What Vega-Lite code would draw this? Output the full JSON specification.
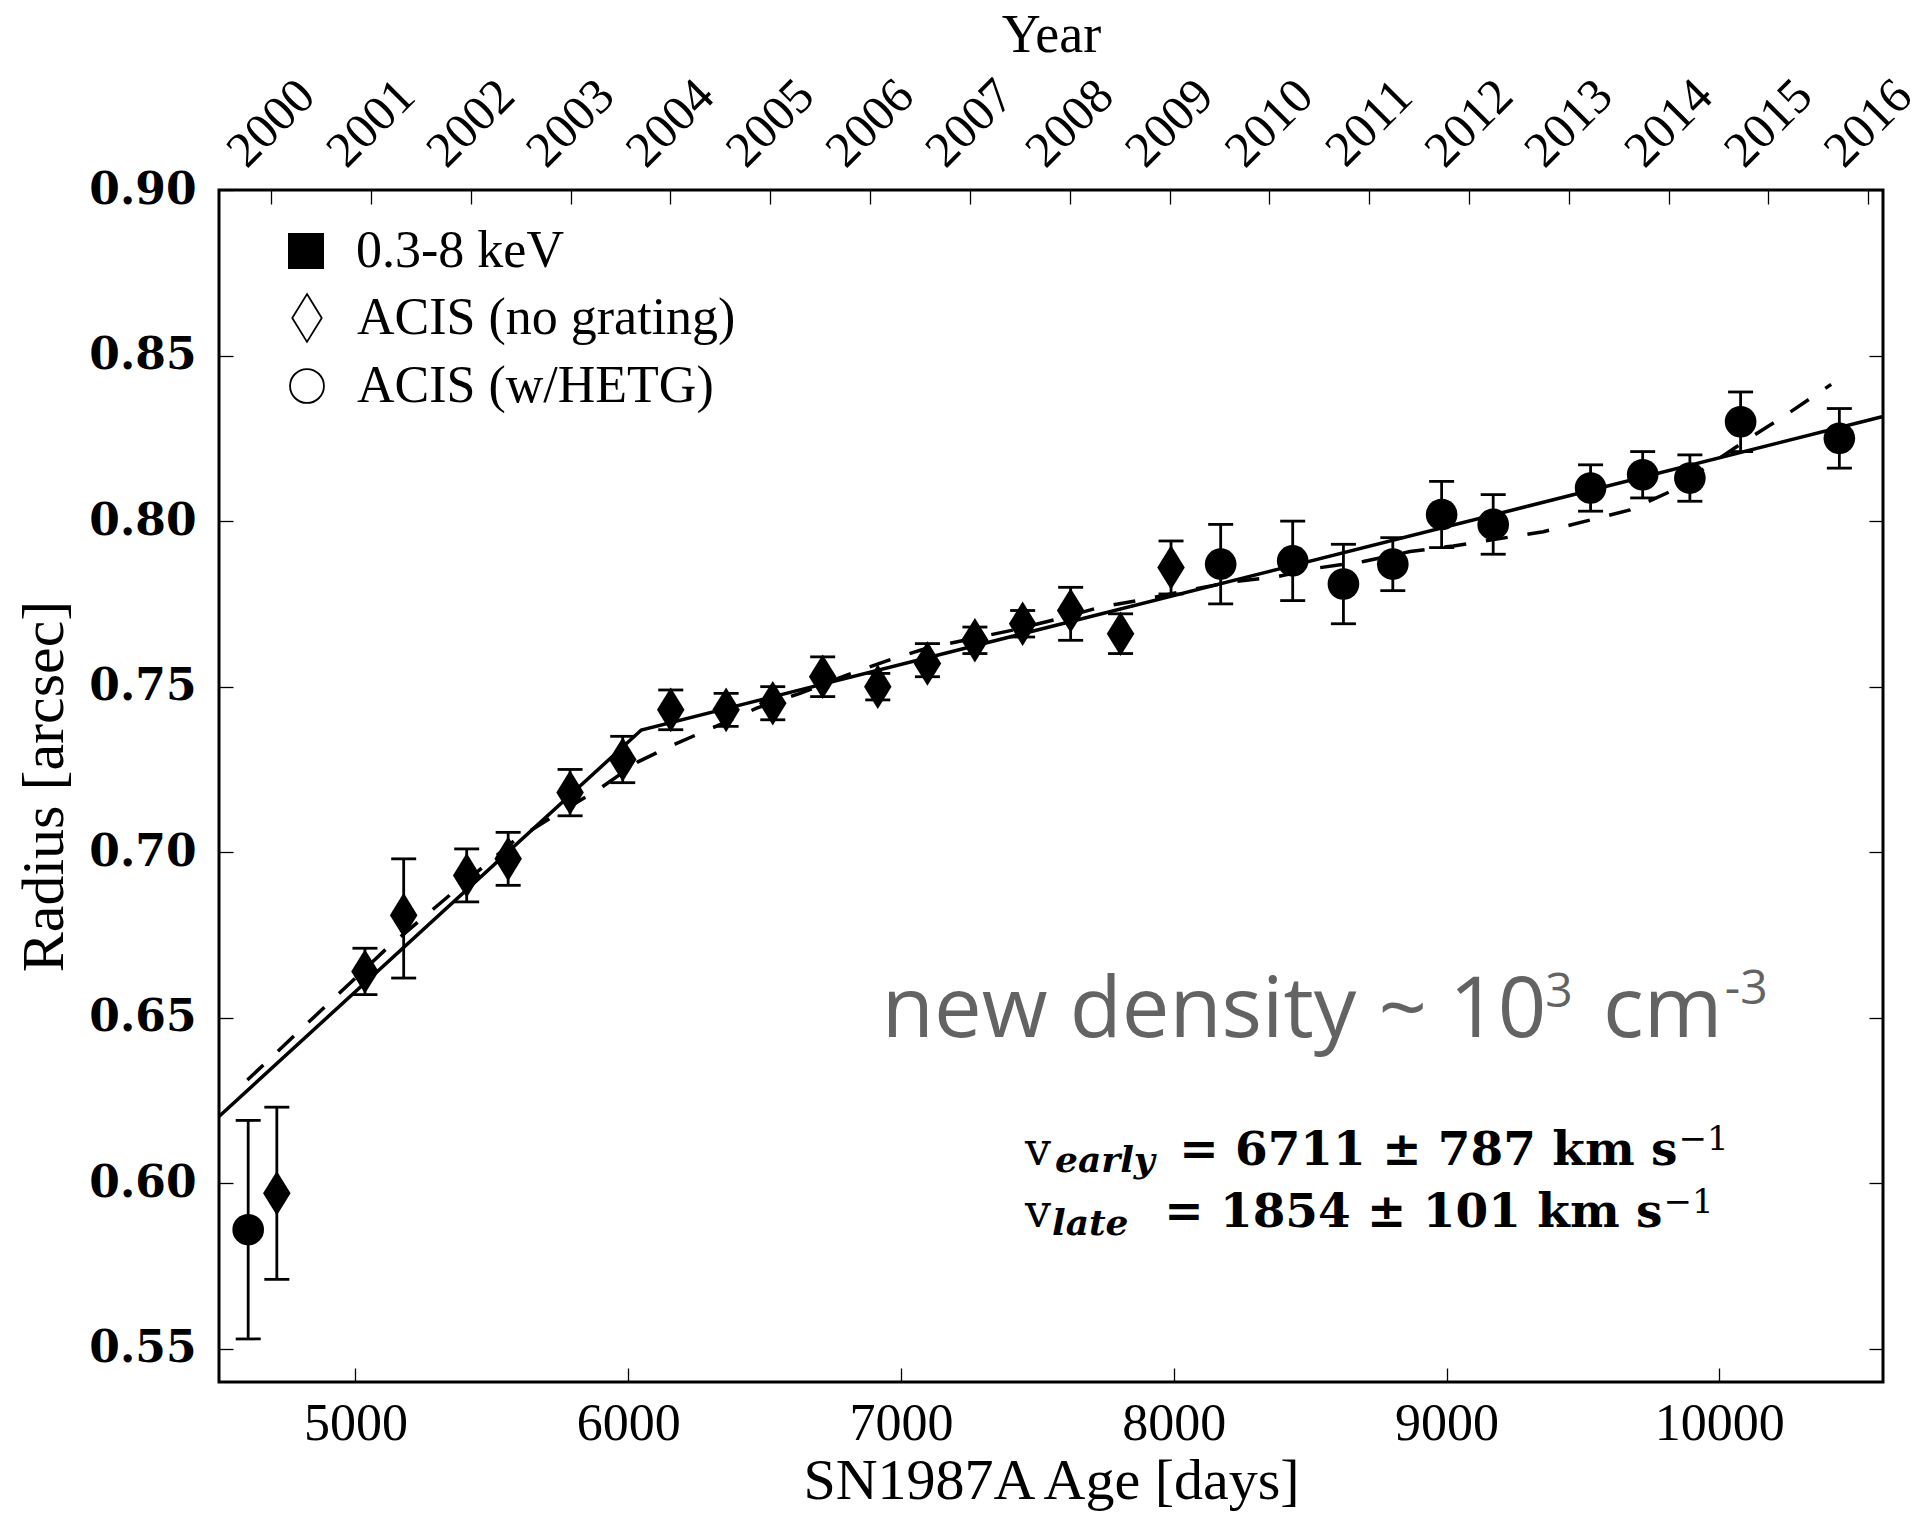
{
  "$schema": "https://vega.github.io/schema/vega-lite/v6.json",
  "width": 1664,
  "height": 1192,
  "autosize": {"type": "none"},
  "padding": {"left": 219, "top": 190, "right": 41, "bottom": 131},
  "background": "white",
  "config": {
    "view": {"stroke": "black", "strokeWidth": 3},
    "axis": {
      "grid": false, "domain": false, "tickColor": "black", "tickWidth": 1.3, "tickSize": -14,
      "labelColor": "black", "titleColor": "black", "labelFont": "Liberation Serif", "titleFont": "Liberation Serif",
      "titleFontWeight": "normal", "labelFontSize": 50, "titleFontSize": 60, "labelOverlap": false, "labelFlush": false, "labelLimit": 400
    },
    "legend": {"labelFont": "Liberation Serif", "labelFontSize": 52, "labelColor": "black", "padding": 0, "labelLimit": 700, "symbolStrokeWidth": 1.8}
  },
  "datasets": {
    "obs": [
      {"day": 4607, "r": 0.586, "lo": 0.553, "hi": 0.619, "instrument": "ACIS (w/HETG)", "band": "0.3-8 keV"},
      {"day": 4712, "r": 0.597, "lo": 0.571, "hi": 0.623, "instrument": "ACIS (no grating)", "band": "0.3-8 keV"},
      {"day": 5035, "r": 0.664, "lo": 0.657, "hi": 0.671, "instrument": "ACIS (no grating)", "band": "0.3-8 keV"},
      {"day": 5177, "r": 0.681, "lo": 0.662, "hi": 0.698, "instrument": "ACIS (no grating)", "band": "0.3-8 keV"},
      {"day": 5408, "r": 0.693, "lo": 0.685, "hi": 0.701, "instrument": "ACIS (no grating)", "band": "0.3-8 keV"},
      {"day": 5560, "r": 0.698, "lo": 0.690, "hi": 0.706, "instrument": "ACIS (no grating)", "band": "0.3-8 keV"},
      {"day": 5787, "r": 0.718, "lo": 0.711, "hi": 0.725, "instrument": "ACIS (no grating)", "band": "0.3-8 keV"},
      {"day": 5980, "r": 0.728, "lo": 0.721, "hi": 0.735, "instrument": "ACIS (no grating)", "band": "0.3-8 keV"},
      {"day": 6156, "r": 0.743, "lo": 0.737, "hi": 0.749, "instrument": "ACIS (no grating)", "band": "0.3-8 keV"},
      {"day": 6359, "r": 0.743, "lo": 0.738, "hi": 0.748, "instrument": "ACIS (no grating)", "band": "0.3-8 keV"},
      {"day": 6530, "r": 0.745, "lo": 0.740, "hi": 0.750, "instrument": "ACIS (no grating)", "band": "0.3-8 keV"},
      {"day": 6713, "r": 0.753, "lo": 0.747, "hi": 0.759, "instrument": "ACIS (no grating)", "band": "0.3-8 keV"},
      {"day": 6915, "r": 0.750, "lo": 0.746, "hi": 0.754, "instrument": "ACIS (no grating)", "band": "0.3-8 keV"},
      {"day": 7097, "r": 0.757, "lo": 0.753, "hi": 0.763, "instrument": "ACIS (no grating)", "band": "0.3-8 keV"},
      {"day": 7271, "r": 0.764, "lo": 0.760, "hi": 0.768, "instrument": "ACIS (no grating)", "band": "0.3-8 keV"},
      {"day": 7446, "r": 0.769, "lo": 0.765, "hi": 0.773, "instrument": "ACIS (no grating)", "band": "0.3-8 keV"},
      {"day": 7622, "r": 0.773, "lo": 0.764, "hi": 0.780, "instrument": "ACIS (no grating)", "band": "0.3-8 keV"},
      {"day": 7805, "r": 0.766, "lo": 0.760, "hi": 0.772, "instrument": "ACIS (no grating)", "band": "0.3-8 keV"},
      {"day": 7990, "r": 0.786, "lo": 0.778, "hi": 0.794, "instrument": "ACIS (no grating)", "band": "0.3-8 keV"},
      {"day": 8172, "r": 0.787, "lo": 0.775, "hi": 0.799, "instrument": "ACIS (w/HETG)", "band": "0.3-8 keV"},
      {"day": 8436, "r": 0.788, "lo": 0.776, "hi": 0.800, "instrument": "ACIS (w/HETG)", "band": "0.3-8 keV"},
      {"day": 8622, "r": 0.781, "lo": 0.769, "hi": 0.793, "instrument": "ACIS (w/HETG)", "band": "0.3-8 keV"},
      {"day": 8803, "r": 0.787, "lo": 0.779, "hi": 0.795, "instrument": "ACIS (w/HETG)", "band": "0.3-8 keV"},
      {"day": 8982, "r": 0.802, "lo": 0.792, "hi": 0.812, "instrument": "ACIS (w/HETG)", "band": "0.3-8 keV"},
      {"day": 9171, "r": 0.799, "lo": 0.790, "hi": 0.808, "instrument": "ACIS (w/HETG)", "band": "0.3-8 keV"},
      {"day": 9528, "r": 0.810, "lo": 0.803, "hi": 0.817, "instrument": "ACIS (w/HETG)", "band": "0.3-8 keV"},
      {"day": 9719, "r": 0.814, "lo": 0.807, "hi": 0.821, "instrument": "ACIS (w/HETG)", "band": "0.3-8 keV"},
      {"day": 9892, "r": 0.813, "lo": 0.806, "hi": 0.820, "instrument": "ACIS (w/HETG)", "band": "0.3-8 keV"},
      {"day": 10078, "r": 0.830, "lo": 0.821, "hi": 0.839, "instrument": "ACIS (w/HETG)", "band": "0.3-8 keV"},
      {"day": 10440, "r": 0.825, "lo": 0.816, "hi": 0.834, "instrument": "ACIS (w/HETG)", "band": "0.3-8 keV"}
    ],
    "years": [
      {"year": 2000}, {"year": 2001}, {"year": 2002}, {"year": 2003}, {"year": 2004}, {"year": 2005},
      {"year": 2006}, {"year": 2007}, {"year": 2008}, {"year": 2009}, {"year": 2010}, {"year": 2011},
      {"year": 2012}, {"year": 2013}, {"year": 2014}, {"year": 2015}, {"year": 2016}
    ],
    "fit_solid": [
      {"day": 4500, "r": 0.6202},
      {"day": 6048, "r": 0.7369},
      {"day": 10600, "r": 0.8316}
    ],
    "fit_dashed": [
      {"day": 4604, "r": 0.6312}, {"day": 5109, "r": 0.6705}, {"day": 5490, "r": 0.6971}, {"day": 5581, "r": 0.7034},
      {"day": 5723, "r": 0.7107}, {"day": 5897, "r": 0.7193}, {"day": 6036, "r": 0.7273}, {"day": 6178, "r": 0.7329},
      {"day": 6324, "r": 0.7381}, {"day": 6471, "r": 0.7435}, {"day": 6630, "r": 0.7480}, {"day": 6801, "r": 0.7535},
      {"day": 6948, "r": 0.7578}, {"day": 7094, "r": 0.7616}, {"day": 7411, "r": 0.7671}, {"day": 7583, "r": 0.7706},
      {"day": 7730, "r": 0.7740}, {"day": 7901, "r": 0.7765}, {"day": 8060, "r": 0.7792}, {"day": 8217, "r": 0.7817},
      {"day": 8377, "r": 0.7832}, {"day": 8524, "r": 0.7858}, {"day": 8695, "r": 0.7878}, {"day": 8866, "r": 0.7908},
      {"day": 9025, "r": 0.7925}, {"day": 9355, "r": 0.7968}, {"day": 9526, "r": 0.8003}, {"day": 9673, "r": 0.8034},
      {"day": 9819, "r": 0.8089}, {"day": 9954, "r": 0.8164}, {"day": 10100, "r": 0.8245}, {"day": 10234, "r": 0.8315},
      {"day": 10410, "r": 0.8413}
    ]
  },
  "layer": [
    {
      "data": {"name": "years"},
      "mark": {"type": "point", "opacity": 0},
      "encoding": {
        "x": {
          "field": "year", "type": "quantitative",
          "scale": {"domain": [1999.479, 2016.147], "nice": false, "zero": false},
          "axis": {
            "orient": "top", "values": [2000,2001,2002,2003,2004,2005,2006,2007,2008,2009,2010,2011,2012,2013,2014,2015,2016],
            "format": "d", "labelAngle": -45, "labelAlign": "center", "labelBaseline": "middle", "labelPadding": 81,
            "title": "Year", "titleFontSize": 54, "titleX": 832, "titleY": -139, "titleBaseline": "alphabetic"
          }
        },
        "y": {
          "datum": 0.9, "type": "quantitative",
          "scale": {"domain": [0.54, 0.9], "nice": false, "zero": false},
          "axis": {"orient": "right", "values": [0.55,0.6,0.65,0.7,0.75,0.8,0.85,0.9], "labels": false, "title": null}
        }
      }
    },
    {
      "layer": [
        {
          "data": {"name": "fit_solid"},
          "mark": {"type": "line", "color": "black", "strokeWidth": 3.5},
          "encoding": {
            "x": {
              "field": "day", "type": "quantitative", "title": "SN1987A Age [days]",
              "scale": {"domain": [4500, 10600], "nice": false, "zero": false},
              "axis": {"orient": "bottom", "values": [5000,6000,7000,8000,9000,10000], "format": "d", "labelPadding": 30, "labelFontSize": 52,
                       "titleX": 832, "titleY": 116, "titleFontSize": 58, "titleBaseline": "alphabetic"}
            },
            "y": {
              "field": "r", "type": "quantitative", "title": "Radius [arcsec]",
              "scale": {"domain": [0.54, 0.9], "nice": false, "zero": false},
              "axis": {"orient": "left", "values": [0.55,0.6,0.65,0.7,0.75,0.8,0.85,0.9], "format": ".2f",
                       "labelFont": "DejaVu Serif", "labelFontWeight": "bold", "labelFontSize": 44, "labelPadding": 37,
                       "titleX": -157, "titleY": 596, "titleBaseline": "alphabetic"}
            }
          }
        },
        {
          "data": {"name": "fit_dashed"},
          "mark": {"type": "line", "color": "black", "strokeWidth": 3.5, "strokeDash": [22, 20]},
          "encoding": {
            "x": {"field": "day", "type": "quantitative", "title": "SN1987A Age [days]"},
            "y": {"field": "r", "type": "quantitative", "title": "Radius [arcsec]"}
          }
        },
        {
          "data": {"name": "obs"},
          "mark": {"type": "rule", "color": "black", "strokeWidth": 2.8},
          "encoding": {
            "x": {"field": "day", "type": "quantitative", "title": "SN1987A Age [days]"},
            "y": {"field": "lo", "type": "quantitative", "title": "Radius [arcsec]"},
            "y2": {"field": "hi"}
          }
        },
        {
          "data": {"name": "obs"},
          "mark": {"type": "tick", "orient": "horizontal", "color": "black", "size": 25, "thickness": 2.8, "opacity": 1},
          "encoding": {
            "x": {"field": "day", "type": "quantitative", "title": "SN1987A Age [days]"},
            "y": {"field": "lo", "type": "quantitative", "title": "Radius [arcsec]"}
          }
        },
        {
          "data": {"name": "obs"},
          "mark": {"type": "tick", "orient": "horizontal", "color": "black", "size": 25, "thickness": 2.8, "opacity": 1},
          "encoding": {
            "x": {"field": "day", "type": "quantitative", "title": "SN1987A Age [days]"},
            "y": {"field": "hi", "type": "quantitative", "title": "Radius [arcsec]"}
          }
        },
        {
          "data": {"name": "obs"},
          "mark": {"type": "point", "filled": true, "size": 1000, "opacity": 1},
          "encoding": {
            "x": {"field": "day", "type": "quantitative", "title": "SN1987A Age [days]"},
            "y": {"field": "r", "type": "quantitative", "title": "Radius [arcsec]"},
            "color": {
              "field": "band", "type": "nominal",
              "scale": {"domain": ["0.3-8 keV"], "range": ["black"]},
              "legend": {"orient": "none", "legendX": 61, "legendY": 35, "title": null, "symbolType": "square", "symbolSize": 1296, "labelOffset": 24}
            },
            "shape": {
              "field": "instrument", "type": "nominal",
              "scale": {"domain": ["ACIS (no grating)", "ACIS (w/HETG)"], "range": ["M0,-1.41L0.87,0L0,1.41L-0.87,0Z", "circle"]},
              "legend": {
                "orient": "none", "legendX": 62, "legendY": 102, "title": null, "symbolSize": 1150, "labelOffset": 24, "rowPadding": 14,
                "symbolFillColor": "white", "symbolStrokeColor": "black", "symbolStrokeWidth": 1.8,
                "encode": {"symbols": {
                  "enter": {"fill": {"value": "white"}, "stroke": {"value": "black"}, "strokeWidth": {"value": 1.8}},
                  "update": {"fill": {"value": "white"}, "stroke": {"value": "black"}, "strokeWidth": {"value": 1.8}, "opacity": {"value": 1}}
                }}
              }
            }
          }
        },
        {
          "data": {"values": [{}]},
          "mark": {"type": "text", "font": "Open Sans", "fontSize": 85, "color": "#636363", "align": "left", "baseline": "alphabetic", "text": "new density ~ 10"},
          "encoding": {
            "x": {"datum": 6930, "type": "quantitative", "title": "SN1987A Age [days]"},
            "y": {"datum": 0.6442, "type": "quantitative", "title": "Radius [arcsec]"}
          }
        },
        {
          "data": {"values": [{}]},
          "mark": {"type": "text", "font": "Open Sans", "fontSize": 48, "color": "#636363", "align": "left", "baseline": "alphabetic", "text": "3"},
          "encoding": {
            "x": {"datum": 9362, "type": "quantitative", "title": "SN1987A Age [days]"},
            "y": {"datum": 0.6533, "type": "quantitative", "title": "Radius [arcsec]"}
          }
        },
        {
          "data": {"values": [{}]},
          "mark": {"type": "text", "font": "Open Sans", "fontSize": 85, "color": "#636363", "align": "left", "baseline": "alphabetic", "text": "cm"},
          "encoding": {
            "x": {"datum": 9573.5, "type": "quantitative", "title": "SN1987A Age [days]"},
            "y": {"datum": 0.6442, "type": "quantitative", "title": "Radius [arcsec]"}
          }
        },
        {
          "data": {"values": [{}]},
          "mark": {"type": "text", "font": "Open Sans", "fontSize": 48, "color": "#636363", "align": "left", "baseline": "alphabetic", "text": "-3"},
          "encoding": {
            "x": {"datum": 10020, "type": "quantitative", "title": "SN1987A Age [days]"},
            "y": {"datum": 0.6542, "type": "quantitative", "title": "Radius [arcsec]"}
          }
        },
        {
          "data": {"values": [{}]},
          "mark": {"type": "text", "font": "DejaVu Serif", "fontSize": 46, "color": "black", "align": "left", "baseline": "alphabetic", "text": "v"},
          "encoding": {
            "x": {"datum": 7454.6, "type": "quantitative", "title": "SN1987A Age [days]"},
            "y": {"datum": 0.60554, "type": "quantitative", "title": "Radius [arcsec]"}
          }
        },
        {
          "data": {"values": [{}]},
          "mark": {"type": "text", "font": "DejaVu Serif", "fontStyle": "italic", "fontWeight": "bold", "fontSize": 36, "color": "black", "align": "left", "baseline": "alphabetic", "text": "early"},
          "encoding": {
            "x": {"datum": 7564.6, "type": "quantitative", "title": "SN1987A Age [days]"},
            "y": {"datum": 0.60344, "type": "quantitative", "title": "Radius [arcsec]"}
          }
        },
        {
          "data": {"values": [{}]},
          "mark": {"type": "text", "font": "DejaVu Serif", "fontWeight": "bold", "fontSize": 47, "color": "black", "align": "left", "baseline": "alphabetic", "text": "= 6711 ± 787 km s"},
          "encoding": {
            "x": {"datum": 8020, "type": "quantitative", "title": "SN1987A Age [days]"},
            "y": {"datum": 0.60554, "type": "quantitative", "title": "Radius [arcsec]"}
          }
        },
        {
          "data": {"values": [{}]},
          "mark": {"type": "text", "font": "DejaVu Serif", "fontSize": 34, "color": "black", "align": "left", "baseline": "alphabetic", "text": "−1"},
          "encoding": {
            "x": {"datum": 9850, "type": "quantitative", "title": "SN1987A Age [days]"},
            "y": {"datum": 0.6101, "type": "quantitative", "title": "Radius [arcsec]"}
          }
        },
        {
          "data": {"values": [{}]},
          "mark": {"type": "text", "font": "DejaVu Serif", "fontSize": 46, "color": "black", "align": "left", "baseline": "alphabetic", "text": "v"},
          "encoding": {
            "x": {"datum": 7454.6, "type": "quantitative", "title": "SN1987A Age [days]"},
            "y": {"datum": 0.58683, "type": "quantitative", "title": "Radius [arcsec]"}
          }
        },
        {
          "data": {"values": [{}]},
          "mark": {"type": "text", "font": "DejaVu Serif", "fontStyle": "italic", "fontWeight": "bold", "fontSize": 36, "color": "black", "align": "left", "baseline": "alphabetic", "text": "late"},
          "encoding": {
            "x": {"datum": 7553.6, "type": "quantitative", "title": "SN1987A Age [days]"},
            "y": {"datum": 0.58442, "type": "quantitative", "title": "Radius [arcsec]"}
          }
        },
        {
          "data": {"values": [{}]},
          "mark": {"type": "text", "font": "DejaVu Serif", "fontWeight": "bold", "fontSize": 47, "color": "black", "align": "left", "baseline": "alphabetic", "text": "= 1854 ± 101 km s"},
          "encoding": {
            "x": {"datum": 7965, "type": "quantitative", "title": "SN1987A Age [days]"},
            "y": {"datum": 0.58683, "type": "quantitative", "title": "Radius [arcsec]"}
          }
        },
        {
          "data": {"values": [{}]},
          "mark": {"type": "text", "font": "DejaVu Serif", "fontSize": 34, "color": "black", "align": "left", "baseline": "alphabetic", "text": "−1"},
          "encoding": {
            "x": {"datum": 9795, "type": "quantitative", "title": "SN1987A Age [days]"},
            "y": {"datum": 0.59104, "type": "quantitative", "title": "Radius [arcsec]"}
          }
        }
      ]
    }
  ],
  "resolve": {"scale": {"x": "independent"}, "axis": {"x": "independent", "y": "independent"}}
}
